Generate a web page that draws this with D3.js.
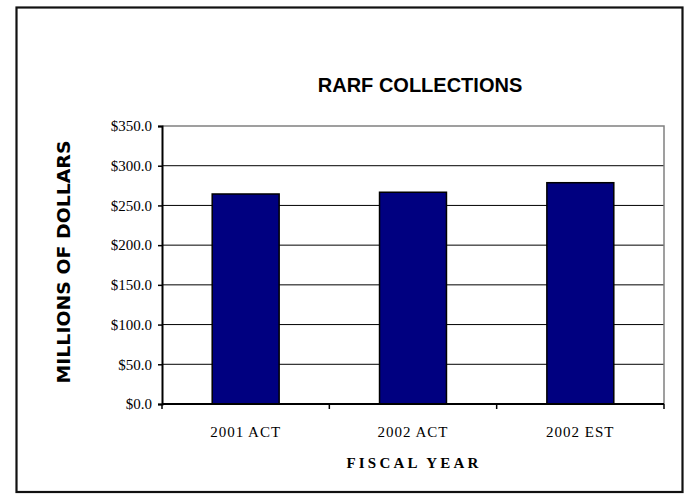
<!DOCTYPE html>
<html><head><meta charset="utf-8">
<script src="https://cdn.jsdelivr.net/npm/d3@7"></script>
<style>body{margin:0;background:#fff}svg{display:block}</style>
</head><body>
<svg id="c" width="698" height="502"></svg>
<script>
const categories = ["2001 ACT", "2002 ACT", "2002 EST"];
const collections = [264.4, 266.6, 278.6];
const yTicks = [0, 50, 100, 150, 200, 250, 300, 350];
const titleText = "RARF COLLECTIONS";
const yTitle = "MILLIONS OF DOLLARS";
const xTitle = "FISCAL YEAR";

const svg = d3.select("#c");
const L = 162, R = 664, T = 126, B = 404;

// outer frame
svg.append("rect").attr("x", 16.5).attr("y", 7.5).attr("width", 666).attr("height", 484.5)
  .attr("fill", "none").attr("stroke", "#111").attr("stroke-width", 2.2);

const x = d3.scaleBand().domain(categories).range([L, R]).paddingInner(0.6).paddingOuter(0.3);
const xb = d3.scaleBand().domain(categories).range([L, R]);
const y = d3.scaleLinear().domain([0, 350]).range([B, T]);

// gridlines
svg.append("g").selectAll("line").data(yTicks.filter(d => d > 0 && d < 350)).join("line")
  .attr("x1", L).attr("x2", R).attr("y1", d => y(d)).attr("y2", d => y(d))
  .attr("stroke", "#000").attr("stroke-width", 1);

// plot border top/right (gray)
svg.append("path").attr("d", `M${L},${y(350)}H${R}V${B}`)
  .attr("fill", "none").attr("stroke", "#808080").attr("stroke-width", 1.5);

// bars
svg.append("g").selectAll("rect").data(categories).join("rect")
  .attr("x", d => x(d)).attr("width", x.bandwidth())
  .attr("y", (d, i) => y(collections[i])).attr("height", (d, i) => B - y(collections[i]))
  .attr("fill", "#000080").attr("stroke", "#000").attr("stroke-width", 1.5);

// y axis
const ya = d3.axisLeft(y).tickValues(yTicks).tickSize(4).tickPadding(6)
  .tickFormat(d => "$" + d3.format(".1f")(d));
const yg = svg.append("g").attr("transform", `translate(${L},0)`).call(ya);
yg.select(".domain").attr("stroke", "#000").attr("stroke-width", 2);
yg.selectAll(".tick line").attr("stroke", "#000").attr("stroke-width", 1.5);
yg.selectAll(".tick text").attr("font-family", "'Liberation Serif','Times New Roman',serif")
  .attr("font-size", 15).attr("fill", "#000");

// x axis
const xg = svg.append("g").attr("transform", `translate(0,${B})`);
xg.append("line").attr("x1", L).attr("x2", R).attr("stroke", "#000").attr("stroke-width", 2);
xg.selectAll(".bt").data(categories.concat(["_end"])).join("line")
  .attr("x1", (d, i) => L + i * xb.bandwidth()).attr("x2", (d, i) => L + i * xb.bandwidth())
  .attr("y1", 0).attr("y2", 5).attr("stroke", "#000").attr("stroke-width", 1.5);
xg.selectAll("text").data(categories).join("text")
  .attr("x", d => xb(d) + xb.bandwidth() / 2).attr("y", 33)
  .attr("text-anchor", "middle")
  .attr("font-family", "'Liberation Serif','Times New Roman',serif")
  .attr("font-size", 15).attr("letter-spacing", 1).text(d => d);

// titles
svg.append("text").attr("x", 420).attr("y", 92).attr("text-anchor", "middle")
  .attr("font-family", "'Liberation Sans',Arial,sans-serif").attr("font-weight", "bold")
  .attr("font-size", 20).text(titleText);

svg.append("text").attr("transform", "translate(70,262) rotate(-90)").attr("text-anchor", "middle")
  .attr("font-family", "'DejaVu Sans',sans-serif").attr("font-weight", "bold")
  .attr("font-size", 17).attr("textLength", 243).attr("lengthAdjust", "spacingAndGlyphs")
  .text(yTitle);

svg.append("text").attr("x", 414).attr("y", 468).attr("text-anchor", "middle")
  .attr("font-family", "'Liberation Serif','Times New Roman',serif").attr("font-weight", "bold")
  .attr("font-size", 15).attr("letter-spacing", 3.2).text(xTitle);
</script>
</body></html>
